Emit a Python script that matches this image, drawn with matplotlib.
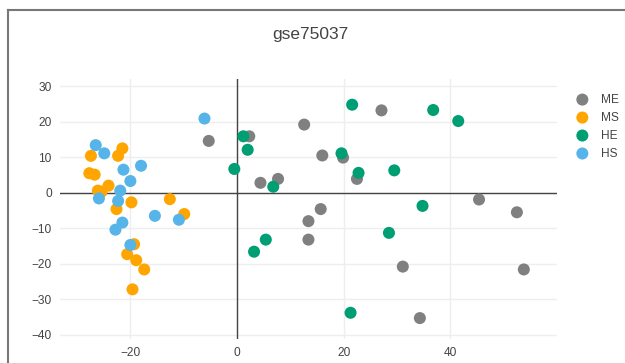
import matplotlib.pyplot as plt

# PCA-style scatter, four sample groups
me_x = [-5.3, 2.3, 12.6, 27.1, 16.0, 19.9, 4.4, 7.7, 22.5, 15.7, 13.4, 13.4, 31.1, 45.4, 52.5, 53.8, 34.3]
me_y = [14.6, 15.9, 19.2, 23.2, 10.5, 9.9, 2.8, 3.9, 3.9, -4.6, -8.0, -13.2, -20.8, -1.9, -5.5, -21.6, -35.3]

ms_x = [-21.5, -27.4, -22.3, -27.7, -26.7, -24.1, -26.1, -25.4, -12.6, -19.8, -22.6, -9.9,
        -19.3, -20.6, -18.9, -17.4, -19.6]
ms_y = [12.5, 10.4, 10.4, 5.5, 5.1, 2.0, 0.6, 0.3, -1.8, -2.7, -4.6, -6.0,
        -14.5, -17.3, -19.0, -21.6, -27.2]

he_x = [-0.5, 1.2, 2.0, 6.8, 21.6, 19.6, 22.8, 29.5, 36.8, 41.5, 34.8, 5.4, 3.2, 28.5, 21.3]
he_y = [6.7, 15.9, 12.1, 1.7, 24.8, 11.1, 5.6, 6.3, 23.3, 20.2, -3.7, -13.2, -16.6, -11.3, -33.8]

hs_x = [-6.1, -26.5, -24.9, -18.0, -21.3, -20.0, -21.9, -25.9, -22.3, -15.4, -10.9, -21.5,
        -22.8, -20.0]
hs_y = [20.9, 13.4, 11.1, 7.6, 6.5, 3.3, 0.6, -1.6, -2.3, -6.5, -7.6, -8.4,
        -10.4, -14.7]

groups = [
    ('ME', me_x, me_y, '#808080'),
    ('MS', ms_x, ms_y, '#FFA500'),
    ('HE', he_x, he_y, '#009E73'),
    ('HS', hs_x, hs_y, '#56B4E9'),
]

plt.rcParams['font.family'] = 'Liberation Sans'

fig = plt.figure(figsize=(6.25, 3.63), dpi=100)
ax = fig.add_axes([0.096, 0.066, 0.795, 0.716])
ax.set_axisbelow(True)

for name, xs, ys, col in groups:
    ax.scatter(xs, ys, s=75, color=col, edgecolors='none', label=name, zorder=3)

ax.set_xlim(-33.2, 60)
ax.set_ylim(-41.2, 32)
ax.set_xticks([-20, 0, 20, 40])
ax.set_yticks([-40, -30, -20, -10, 0, 10, 20, 30])
ax.set_xticklabels(['\u221220', '0', '20', '40'])
ax.set_yticklabels(['\u221240', '\u221230', '\u221220', '\u221210', '0', '10', '20', '30'])
ax.grid(True, color='#eeeeee', linewidth=1)
ax.axhline(0, color='#444444', linewidth=1, zorder=2)
ax.axvline(0, color='#444444', linewidth=1, zorder=2)
for sp in ax.spines.values():
    sp.set_visible(False)
ax.tick_params(length=0, labelsize=8.6, labelcolor='#444444', pad=6)

fig.text(0.496, 0.905, 'gse75037', ha='center', va='center', fontsize=12.5, color='#444444')

fig.legend(loc='upper left', bbox_to_anchor=(0.905, 0.755), frameon=False,
           fontsize=8.6, labelcolor='#444444', handletextpad=0.6,
           labelspacing=0.5, borderaxespad=0)

# outer frame along the top and left edges
fig.add_artist(plt.Line2D([0.0128, 0.0128], [0, 0.972], color='#777777', linewidth=1.5,
                          transform=fig.transFigure))
fig.add_artist(plt.Line2D([0.0128, 1], [0.972, 0.972], color='#777777', linewidth=1.5,
                          transform=fig.transFigure))

fig.savefig('out.png', dpi=100)
